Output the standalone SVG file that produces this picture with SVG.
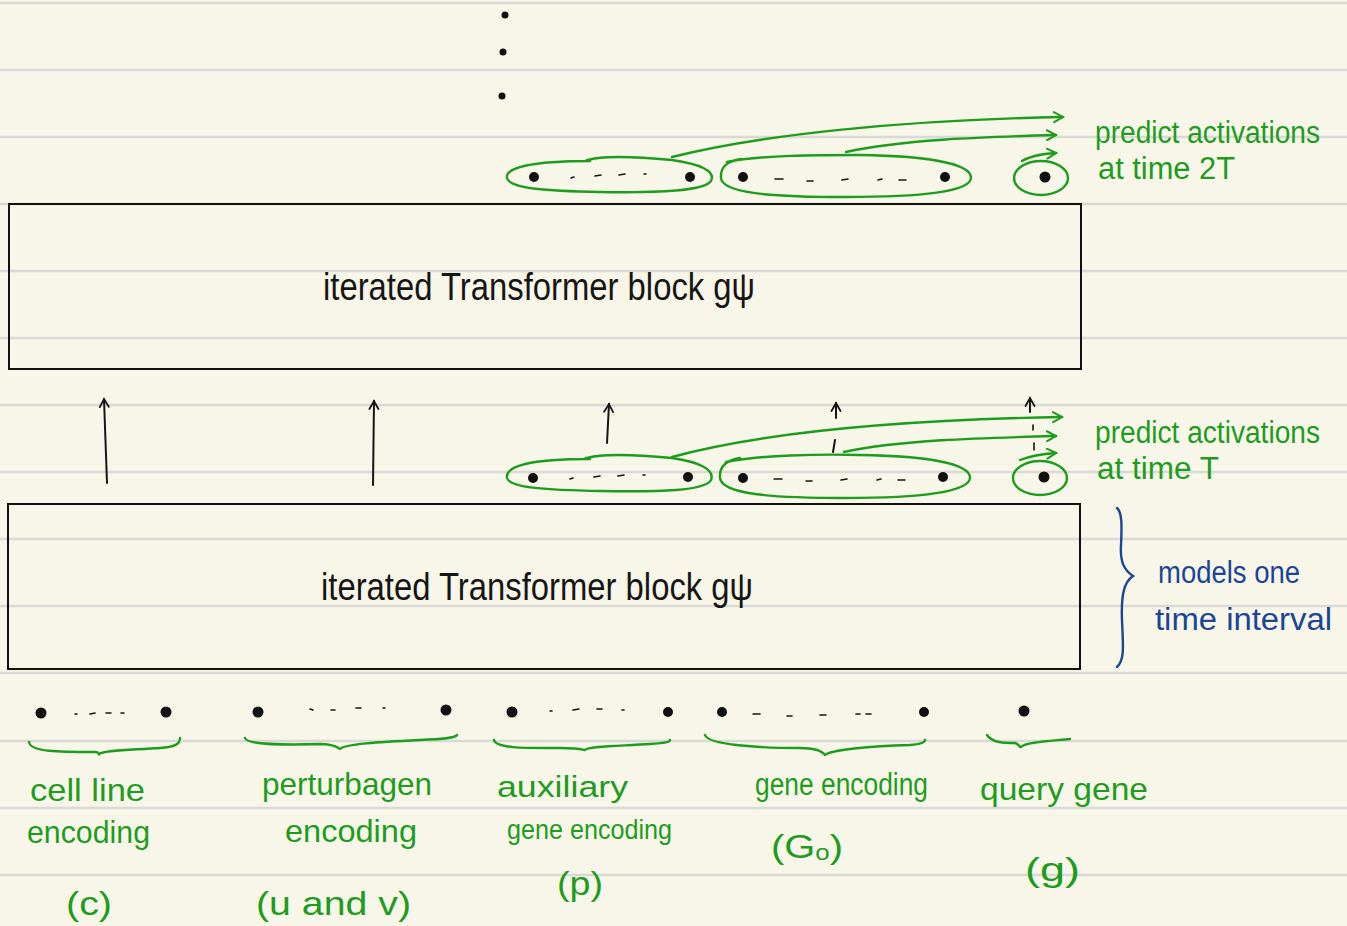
<svg xmlns="http://www.w3.org/2000/svg" width="1347" height="926" viewBox="0 0 1347 926">
  <defs>
    <style>
      .rule { stroke: #d9d9d5; stroke-width: 2.5; }
      .box { fill: none; stroke: #111; stroke-width: 2; }
      .ink { fill: #111; }
      .hand { font-family: "Liberation Sans", "DejaVu Sans", sans-serif; font-weight: normal; }
      .blk { fill: #161616; }
      .grn { fill: #1e9c1e; }
      .blu { fill: #1b4595; }
      .gline { fill: none; stroke: #1e9c1e; stroke-width: 2.4; stroke-linecap: round; stroke-linejoin: round; }
      .bline { fill: none; stroke: #1b4595; stroke-width: 2.4; stroke-linecap: round; }
      .kline { fill: none; stroke: #161616; stroke-width: 2; stroke-linecap: round; }
      .dash { fill: none; stroke: #161616; stroke-width: 1.6; stroke-linecap: round; }
    </style>
    <marker id="gHead" viewBox="0 0 12 12" refX="10" refY="6" markerWidth="12" markerHeight="12" markerUnits="userSpaceOnUse" orient="auto">
      <path d="M 1,1 L 10,6 L 1,11" fill="none" stroke="#1e9c1e" stroke-width="2" stroke-linecap="round"/>
    </marker>
    <marker id="kHead" viewBox="0 0 12 12" refX="10" refY="6" markerWidth="12" markerHeight="12" markerUnits="userSpaceOnUse" orient="auto">
      <path d="M 2,1.5 L 10,6 L 2,10.5" fill="none" stroke="#161616" stroke-width="1.8" stroke-linecap="round"/>
    </marker>
  </defs>

  <!-- notebook paper -->
  <rect x="0" y="0" width="1347" height="926" fill="#f8f6e9"/>
  <g id="ruling">
    <line class="rule" x1="0" y1="3" x2="1347" y2="3"/>
    <line class="rule" x1="0" y1="70" x2="1347" y2="70"/>
    <line class="rule" x1="0" y1="137" x2="1347" y2="137"/>
    <line class="rule" x1="0" y1="204" x2="1347" y2="204"/>
    <line class="rule" x1="0" y1="271" x2="1347" y2="271"/>
    <line class="rule" x1="0" y1="338" x2="1347" y2="338"/>
    <line class="rule" x1="0" y1="405" x2="1347" y2="405"/>
    <line class="rule" x1="0" y1="472" x2="1347" y2="472"/>
    <line class="rule" x1="0" y1="539" x2="1347" y2="539"/>
    <line class="rule" x1="0" y1="606" x2="1347" y2="606"/>
    <line class="rule" x1="0" y1="673" x2="1347" y2="673"/>
    <line class="rule" x1="0" y1="741" x2="1347" y2="741"/>
    <line class="rule" x1="0" y1="808" x2="1347" y2="808"/>
    <line class="rule" x1="0" y1="875" x2="1347" y2="875"/>
  </g>

  <!-- continuation dots -->
  <g id="ellipsis-top">
    <circle class="ink" cx="505" cy="15" r="3.5"/>
    <circle class="ink" cx="503" cy="52" r="3.5"/>
    <circle class="ink" cx="502" cy="96" r="3.5"/>
  </g>

  <!-- Transformer blocks -->
  <g id="block-upper">
    <rect class="box" x="9" y="204" width="1072" height="165"/>
    <text class="hand blk" x="323" y="300" font-size="38" textLength="432" lengthAdjust="spacingAndGlyphs">iterated Transformer block gψ</text>
  </g>
  <g id="block-lower">
    <rect class="box" x="8" y="504" width="1072" height="165"/>
    <text class="hand blk" x="321" y="600" font-size="38" textLength="432" lengthAdjust="spacingAndGlyphs">iterated Transformer block gψ</text>
  </g>

  <!-- token groups after the first block (time T) -->
  <g id="groups-T">
    <path class="gline" d="M 584,459 C 600,453 640,455 672,458 C 700,462 715,470 711,480 C 705,491 660,492 600,491 C 548,490 510,488 507,478 C 505,466 530,459 590,459"/>
    <path class="gline" d="M 726,462 C 760,455 820,454 860,455 C 920,456 968,462 970,477 C 971,492 920,498 845,498 C 770,498 722,494 720,478 C 719,466 727,460 740,458"/>
    <ellipse class="gline" cx="1040" cy="478" rx="27" ry="17"/>
    <circle class="ink" cx="533" cy="478" r="5"/>
    <circle class="ink" cx="688" cy="477" r="5"/>
    <circle class="ink" cx="743" cy="478" r="5"/>
    <circle class="ink" cx="943" cy="477" r="5"/>
    <circle class="ink" cx="1044" cy="477" r="5.5"/>
    <path class="dash" d="M 570,479 L 573,478 M 594,477 L 600,476 M 618,476 L 624,475 M 643,475 L 645,475"/>
    <path class="dash" d="M 774,479 L 782,479 M 806,481 L 812,481 M 841,480 L 847,479 M 877,480 L 881,479 M 898,480 L 905,480"/>
  </g>

  <!-- token groups after the second block (time 2T) -->
  <g id="groups-2T">
    <path class="gline" d="M 585,161 C 600,155 640,157 672,160 C 700,164 716,171 711,181 C 704,191 660,193 600,192 C 548,191 510,189 507,178 C 505,168 530,161 590,161"/>
    <path class="gline" d="M 727,162 C 760,155 820,155 860,155 C 920,156 969,162 971,177 C 972,192 920,197 845,197 C 770,197 722,193 721,178 C 720,166 728,161 741,159"/>
    <ellipse class="gline" cx="1041" cy="178" rx="27" ry="17"/>
    <circle class="ink" cx="534" cy="177" r="5"/>
    <circle class="ink" cx="690" cy="177" r="5"/>
    <circle class="ink" cx="743" cy="177" r="5"/>
    <circle class="ink" cx="945" cy="177" r="5"/>
    <circle class="ink" cx="1045" cy="177" r="5.5"/>
    <path class="dash" d="M 571,178 L 574,177 M 595,176 L 601,175 M 619,175 L 625,174 M 644,174 L 646,174"/>
    <path class="dash" d="M 775,179 L 783,179 M 807,181 L 813,181 M 842,180 L 848,179 M 878,180 L 882,179 M 899,180 L 906,180"/>
  </g>

  <!-- input tokens with braces -->
  <g id="input-cell-line">
    <circle class="ink" cx="41" cy="713" r="5.5"/>
    <circle class="ink" cx="166" cy="712" r="5.5"/>
    <path class="dash" d="M 75,714 L 77,714 M 90,714 L 95,713 M 106,713 L 111,713 M 121,713 L 124,713"/>
    <path class="gline" d="M 29,742 C 30,752 60,752 95,752 C 100,752 99,756 99,754 C 104,750 130,750 160,748 C 175,747 180,744 180,738"/>
    <text class="hand grn" x="30" y="801" font-size="32" textLength="115" lengthAdjust="spacingAndGlyphs">cell line</text>
    <text class="hand grn" x="27" y="843" font-size="32" textLength="123" lengthAdjust="spacingAndGlyphs">encoding</text>
    <text class="hand grn" x="66" y="915" font-size="34" textLength="46" lengthAdjust="spacingAndGlyphs">(c)</text>
  </g>

  <g id="input-perturbagen">
    <circle class="ink" cx="258" cy="712" r="5.5"/>
    <circle class="ink" cx="446" cy="710" r="5.5"/>
    <path class="dash" d="M 310,709 L 313,710 M 331,710 L 335,710 M 356,708 L 361,708 M 383,708 L 385,708"/>
    <path class="gline" d="M 245,738 C 247,745 280,745 320,744 C 335,744 338,748 340,749 C 344,744 380,742 420,740 C 445,739 455,738 457,735"/>
    <text class="hand grn" x="262" y="795" font-size="32" textLength="170" lengthAdjust="spacingAndGlyphs">perturbagen</text>
    <text class="hand grn" x="285" y="842" font-size="32" textLength="132" lengthAdjust="spacingAndGlyphs">encoding</text>
    <text class="hand grn" x="256" y="915" font-size="34" textLength="155" lengthAdjust="spacingAndGlyphs">(u and v)</text>
  </g>

  <g id="input-auxiliary">
    <circle class="ink" cx="512" cy="712" r="5.5"/>
    <circle class="ink" cx="668" cy="712" r="5"/>
    <path class="dash" d="M 550,711 L 552,711 M 573,710 L 579,709 M 597,709 L 602,709 M 622,710 L 624,710"/>
    <path class="gline" d="M 494,740 C 496,749 530,748 560,748 C 580,748 584,750 585,750 C 588,746 620,746 650,744 C 665,743 670,742 670,740"/>
    <text class="hand grn" x="497" y="797" font-size="30" textLength="131" lengthAdjust="spacingAndGlyphs">auxiliary</text>
    <text class="hand grn" x="507" y="839" font-size="27" textLength="165" lengthAdjust="spacingAndGlyphs">gene encoding</text>
    <text class="hand grn" x="557" y="895" font-size="34" textLength="46" lengthAdjust="spacingAndGlyphs">(p)</text>
  </g>

  <g id="input-gene">
    <circle class="ink" cx="722" cy="712" r="5"/>
    <circle class="ink" cx="924" cy="712" r="5"/>
    <path class="dash" d="M 753,714 L 760,714 M 787,716 L 792,716 M 820,715 L 826,715 M 856,714 L 860,714 M 866,714 L 871,714"/>
    <path class="gline" d="M 705,735 C 708,745 760,748 800,748 C 815,748 822,751 825,755 C 830,750 870,746 910,745 C 922,744 925,742 925,740"/>
    <text class="hand grn" x="755" y="795" font-size="31" textLength="173" lengthAdjust="spacingAndGlyphs">gene encoding</text>
    <text class="hand grn" x="771" y="858" font-size="34" textLength="72" lengthAdjust="spacingAndGlyphs">(G<tspan font-size="22" dy="2">o</tspan><tspan dy="-2">)</tspan></text>
  </g>

  <g id="input-query">
    <circle class="ink" cx="1024" cy="711" r="5.5"/>
    <path class="gline" d="M 987,735 C 992,743 1005,743 1015,743 C 1019,744 1020,748 1021,747 C 1025,742 1050,741 1070,739"/>
    <text class="hand grn" x="980" y="800" font-size="32" textLength="168" lengthAdjust="spacingAndGlyphs">query gene</text>
    <text class="hand grn" x="1025" y="881" font-size="34" textLength="55" lengthAdjust="spacingAndGlyphs">(g)</text>
  </g>

  <!-- prediction labels -->
  <g id="label-2T">
    <text class="hand grn" x="1095" y="143" font-size="31" textLength="225" lengthAdjust="spacingAndGlyphs">predict activations</text>
    <text class="hand grn" x="1098" y="179" font-size="31" textLength="137" lengthAdjust="spacingAndGlyphs">at time 2T</text>
  </g>
  <g id="label-T">
    <text class="hand grn" x="1095" y="443" font-size="31" textLength="225" lengthAdjust="spacingAndGlyphs">predict activations</text>
    <text class="hand grn" x="1097" y="479" font-size="31" textLength="122" lengthAdjust="spacingAndGlyphs">at time T</text>
  </g>

  <!-- interval annotation -->
  <g id="interval-note">
    <path class="bline" d="M 1117,508 C 1122,512 1122,525 1121,545 C 1120,562 1124,570 1133,576 C 1124,582 1121,595 1122,620 C 1123,645 1125,660 1117,667"/>
    <text class="hand blu" x="1158" y="583" font-size="31" textLength="142" lengthAdjust="spacingAndGlyphs">models one</text>
    <text class="hand blu" x="1155" y="630" font-size="31" textLength="177" lengthAdjust="spacingAndGlyphs">time interval</text>
  </g>

  <!-- connectors -->
  <g id="connectors">
    <!-- black: tokens feeding the next block -->
    <path class="kline" d="M 107,483 L 104,399" marker-end="url(#kHead)"/>
    <path class="kline" d="M 373,485 L 374,401" marker-end="url(#kHead)"/>
    <path class="kline" d="M 607,443 L 609,404" marker-end="url(#kHead)"/>
    <path class="kline" d="M 836,418 L 836,403" marker-end="url(#kHead)"/>
    <path class="kline" d="M 833,452 L 835,440"/>
    <path class="kline" d="M 1030,412 L 1030,398" marker-end="url(#kHead)"/>
    <path class="dash" d="M 1033,425 L 1033,430 M 1034,443 L 1034,450"/>

    <!-- green: predictions at time T -->
    <path class="gline" d="M 672,457 C 760,433 900,420 1062,417" marker-end="url(#gHead)"/>
    <path class="gline" d="M 844,452 C 900,440 980,438 1056,436" marker-end="url(#gHead)"/>
    <path class="gline" d="M 1020,460 C 1030,456 1040,454 1056,453" marker-end="url(#gHead)"/>

    <!-- green: predictions at time 2T -->
    <path class="gline" d="M 672,157 C 760,135 900,120 1063,117" marker-end="url(#gHead)"/>
    <path class="gline" d="M 846,152 C 900,140 980,137 1056,135" marker-end="url(#gHead)"/>
    <path class="gline" d="M 1022,161 C 1030,156 1040,154 1056,153" marker-end="url(#gHead)"/>
  </g>
</svg>
